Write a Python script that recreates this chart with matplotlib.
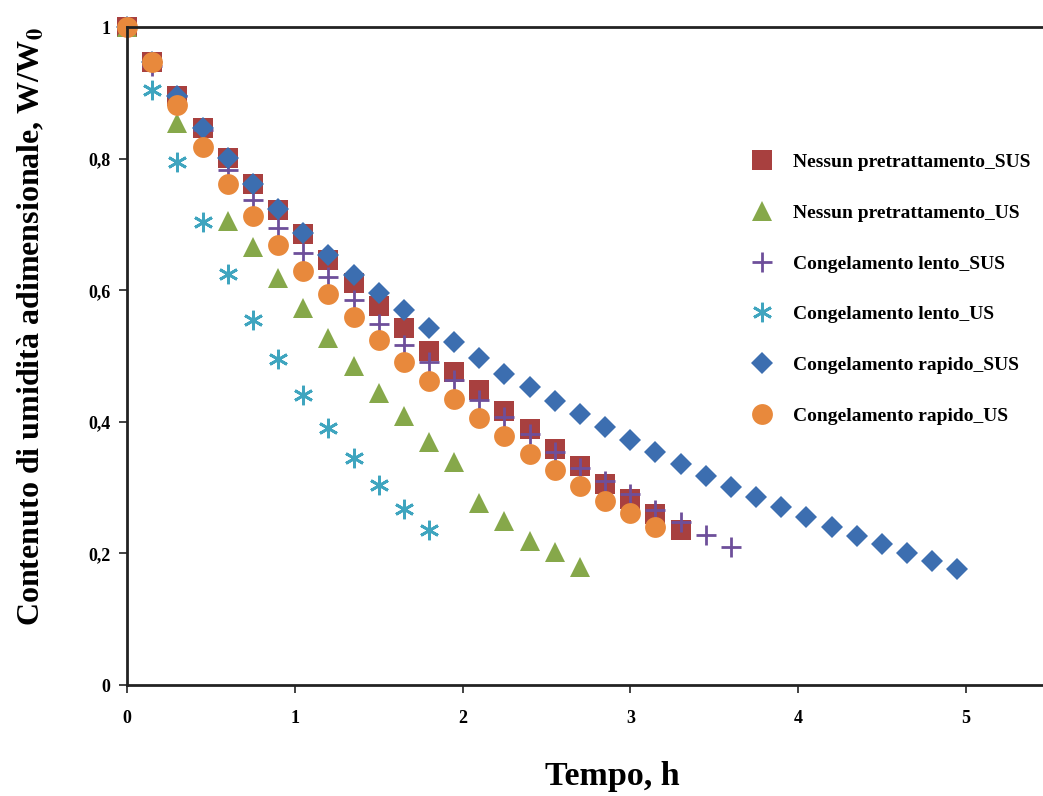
import numpy as np
import matplotlib
matplotlib.use("Agg")
import matplotlib.pyplot as plt

plt.rcParams['font.family'] = ['Liberation Serif', 'DejaVu Serif']
plt.rcParams['font.weight'] = 'bold'
plt.rcParams['mathtext.fontset'] = 'stix'

# tempo (h) and W/W0 for each treatment
x_nessun_sus = [0, 0.15, 0.3, 0.45, 0.6, 0.75, 0.9, 1.05, 1.2, 1.35, 1.5, 1.65, 1.8, 1.95,
                2.1, 2.25, 2.4, 2.55, 2.7, 2.85, 3.0, 3.15, 3.3]
y_nessun_sus = [1.0, 0.947, 0.895, 0.847, 0.801, 0.761, 0.722, 0.685, 0.646, 0.611, 0.576,
                0.543, 0.508, 0.476, 0.448, 0.416, 0.389, 0.359, 0.333, 0.305, 0.283, 0.26, 0.236]

x_nessun_us = [0, 0.3, 0.6, 0.75, 0.9, 1.05, 1.2, 1.35, 1.5, 1.65, 1.8, 1.95, 2.1, 2.25,
               2.4, 2.55, 2.7]
y_nessun_us = [1.0, 0.854, 0.705, 0.666, 0.619, 0.573, 0.527, 0.485, 0.444, 0.409, 0.369,
               0.339, 0.277, 0.249, 0.219, 0.202, 0.179]

x_lento_sus = [0, 0.15, 0.3, 0.45, 0.6, 0.75, 0.9, 1.05, 1.2, 1.35, 1.5, 1.65, 1.8, 1.95,
               2.1, 2.25, 2.4, 2.55, 2.7, 2.85, 3.0, 3.15, 3.3, 3.45, 3.6]
y_lento_sus = [1.0, 0.941, 0.895, 0.843, 0.783, 0.737, 0.695, 0.657, 0.62, 0.585, 0.549,
               0.517, 0.491, 0.464, 0.433, 0.407, 0.381, 0.354, 0.33, 0.31, 0.29, 0.266,
               0.248, 0.228, 0.21]

x_lento_us = [0, 0.15, 0.3, 0.45, 0.6, 0.75, 0.9, 1.05, 1.2, 1.35, 1.5, 1.65, 1.8]
y_lento_us = [1.0, 0.904, 0.795, 0.704, 0.625, 0.555, 0.495, 0.441, 0.391, 0.345, 0.304,
              0.267, 0.236]

x_rapido_sus = [0, 0.15, 0.3, 0.45, 0.6, 0.75, 0.9, 1.05, 1.2, 1.35, 1.5, 1.65, 1.8, 1.95,
                2.1, 2.25, 2.4, 2.55, 2.7, 2.85, 3.0, 3.15, 3.3, 3.45, 3.6, 3.75, 3.9,
                4.05, 4.2, 4.35, 4.5, 4.65, 4.8, 4.95]
y_rapido_sus = [1.0, 0.947, 0.895, 0.847, 0.801, 0.761, 0.723, 0.687, 0.653, 0.623, 0.596,
                0.57, 0.543, 0.521, 0.497, 0.473, 0.453, 0.432, 0.412, 0.392, 0.372, 0.354,
                0.336, 0.318, 0.301, 0.286, 0.271, 0.255, 0.24, 0.226, 0.214, 0.2, 0.188,
                0.176]

x_rapido_us = [0, 0.15, 0.3, 0.45, 0.6, 0.75, 0.9, 1.05, 1.2, 1.35, 1.5, 1.65, 1.8, 1.95,
               2.1, 2.25, 2.4, 2.55, 2.7, 2.85, 3.0, 3.15]
y_rapido_us = [1.0, 0.947, 0.881, 0.818, 0.761, 0.713, 0.669, 0.629, 0.594, 0.559, 0.524,
               0.491, 0.462, 0.435, 0.406, 0.378, 0.351, 0.327, 0.302, 0.28, 0.261, 0.24]

y_ticks = [0, 0.2, 0.4, 0.6, 0.8, 1.0]
y_ticklabels = ['0', '0,2', '0,4', '0,6', '0,8', '1']
x_ticks = [0, 1, 2, 3, 4, 5]

fig = plt.figure(figsize=(10.43, 7.96), dpi=100)
ax = fig.add_axes([0.1218, 0.1394, 0.8782, 0.8266])

ax.plot(x_nessun_sus, y_nessun_sus, 's', ms=14.5, color='#A8403F', mew=0,
        label='Nessun pretrattamento_SUS', clip_on=False)
ax.plot(x_nessun_us, y_nessun_us, '^', ms=14.5, color='#86A84A', mew=0,
        label='Nessun pretrattamento_US', clip_on=False)
ax.plot(x_lento_sus, y_lento_sus, '+', ms=15, color='#6E4F9A', mew=2,
        label='Congelamento lento_SUS', clip_on=False)
ax.plot(x_lento_us, y_lento_us, marker=(6, 2, 0), ls='none', ms=14, color='#3FA5BF', mew=2,
        label='Congelamento lento_US', clip_on=False)
ax.plot(x_rapido_sus, y_rapido_sus, 'D', ms=11, color='#3C6EB0', mew=0,
        label='Congelamento rapido_SUS', clip_on=False)
ax.plot(x_rapido_us, y_rapido_us, 'o', ms=15, color='#E8893C', mew=0,
        label='Congelamento rapido_US', clip_on=False)

ax.set_xlim(0, 5.46)
ax.set_ylim(0, 1)
ax.set_xticks(x_ticks)
ax.set_yticks(y_ticks)
ax.set_yticklabels(y_ticklabels)
ax.tick_params(axis='both', direction='out', length=6, width=1.2, labelsize=13, color='#222222')
ax.tick_params(axis='x', pad=12)
ax.tick_params(axis='y', pad=6)

for side in ['left', 'bottom', 'top']:
    ax.spines[side].set_linewidth(2)
    ax.spines[side].set_color('#222222')
ax.spines['right'].set_visible(False)

ax.set_xlabel('Tempo, h', fontsize=24.5, fontweight='bold')
ax.xaxis.set_label_coords(0.53, -0.115)
ax.set_ylabel('Contenuto di umidità adimensionale, W/W$_\\mathbf{0}$', fontsize=23, fontweight='bold')
ax.yaxis.set_label_coords(-0.088, 0.545)

fig.legend(loc='upper left', bbox_to_anchor=(0.712, 0.807), frameon=False,
           borderpad=0, borderaxespad=0, labelspacing=1.7, handletextpad=0.6,
           prop={'weight': 'bold', 'size': 14})

fig.savefig('out.png', dpi=100)
